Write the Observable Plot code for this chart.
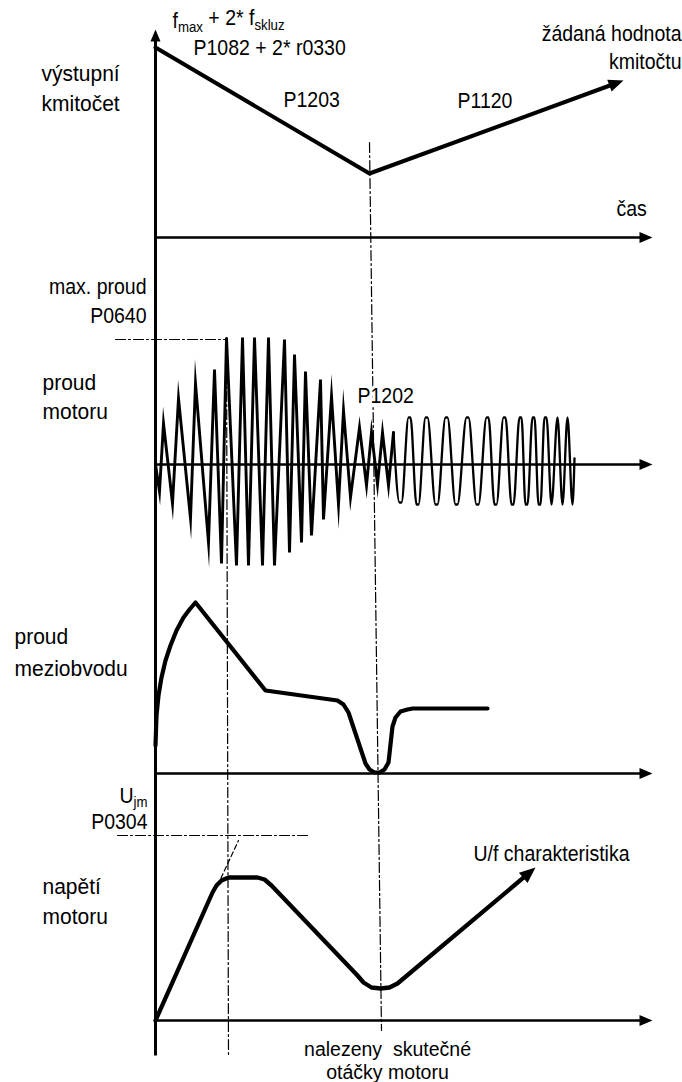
<!DOCTYPE html>
<html>
<head>
<meta charset="utf-8">
<script src="https://cdn.jsdelivr.net/npm/d3@7"></script>
<script src="https://cdn.jsdelivr.net/npm/@observablehq/plot@0.6"></script>
<style>
  html, body { margin: 0; padding: 0; background: #fff; }
  #chart svg { display: block; }
</style>
</head>
<body>
<div id="chart"></div>
<script>
// ---------------- DATA (t = time from the vertical axis, v = value above the panel's own time axis)
const freqOut = [ {t:0,v:190}, {t:214,v:64}, {t:468,v:157} ];

const motorZigzag = [
  {t:0,v:0},{t:4,v:-27},{t:8,v:41},{t:17,v:-39},{t:23,v:66},{t:35,v:-54},{t:40,v:81},
  {t:53,v:-78},{t:59,v:95},{t:66,v:-99},{t:71,v:127},{t:81,v:-101},{t:87,v:127},
  {t:93,v:-101},{t:99,v:127},{t:107,v:-101},{t:113,v:127},{t:119,v:-101},{t:129,v:125},
  {t:134,v:-88},{t:139,v:110},{t:146,v:-78},{t:150,v:93},{t:156,v:-71},{t:165,v:85},
  {t:168,v:-55},{t:176,v:68},{t:183,v:-40},{t:188,v:54},{t:195,v:-33},{t:204,v:37},
  {t:211,v:-21},{t:216,v:32},{t:222,v:-20},{t:227,v:32},{t:233,v:-21},{t:238,v:32}
];
const motorSine = [
  {t:238,v:32},{t:244,v:-38},{t:246,v:-38},{t:253,v:47},{t:255,v:47},{t:261,v:-40},{t:263,v:-40},
  {t:270,v:47},{t:272,v:47},{t:280,v:-40},{t:282,v:-40},{t:290,v:47},{t:292,v:47},
  {t:300,v:-40},{t:302,v:-40},{t:311,v:47},{t:313,v:47},{t:321,v:-40},{t:323,v:-40},
  {t:331,v:47},{t:333,v:47},{t:339,v:-40},{t:341,v:-40},{t:348,v:47},{t:350,v:47},
  {t:356,v:-40},{t:358,v:-40},{t:364,v:47},{t:366,v:47},{t:370,v:-40},{t:372,v:-40},
  {t:377,v:47},{t:379,v:47},{t:383,v:-40},{t:385,v:-40},{t:389,v:47},{t:391,v:47},
  {t:396,v:-40},{t:402,v:47},{t:407,v:-40},{t:412,v:47},{t:417,v:-40},{t:419,v:6}
];
const dcLink = [
  {t:0,v:28},{t:1,v:58},{t:3,v:78},{t:6,v:96},{t:10,v:113},{t:15,v:128},{t:21,v:143},
  {t:28,v:156},{t:34,v:164},{t:40,v:171},{t:110,v:83},{t:182,v:73},{t:188,v:69},
  {t:193,v:61},{t:210,v:10},{t:214,v:4},{t:219,v:1},{t:224,v:1},{t:229,v:4},{t:233,v:11},
  {t:237,v:47},{t:240,v:56},{t:245,v:62},{t:252,v:64},{t:257,v:65},{t:332,v:65}
];
const motorVoltage = [
  {t:0,v:0},{t:57,v:128},{t:61,v:135},{t:66,v:140},{t:73,v:143},{t:102,v:143},
  {t:109,v:141},{t:116,v:135},{t:202,v:45},{t:208,v:38},{t:216,v:33},{t:225,v:32},
  {t:234,v:33},{t:242,v:37},{t:380,v:153}
];
// guide lines (dash-dot)
const syncGuide      = [ {t:214,panel:"freq",v:95},   {t:226,panel:"volt",v:-10} ];
const peakGuide      = [ {t:71,panel:"motor",v:127},  {t:73,panel:"volt",v:-35} ];
const maxCurrentLine = [ {t:-40,panel:"motor",v:125}, {t:71,panel:"motor",v:125} ];
const ujmLine        = [ {t:-38,panel:"volt",v:185},  {t:152,panel:"volt",v:185} ];
const tangentLine    = [ {t:62,panel:"volt",v:135},   {t:83,panel:"volt",v:180} ];

// texts
const panelTitles = ["výstupní", "kmitočet", "proud", "motoru", "proud", "meziobvodu", "napětí", "motoru"];
const paramTexts = ["f_{max} + 2* f_{skluz}", "P1082 + 2* r0330", "P1203", "P1120",
  "žádaná hodnota", "kmitočtu", "čas", "max. proud", "P0640", "P1202",
  "U_{jm}", "P0304", "U/f charakteristika", "nalezeny  skutečné", "otáčky motoru"];

// ---------------- LAYOUT
const W = 682, H = 1082;
const base = {freq: 845, motor: 618, dc: 309, volt: 62};   // level of each panel's time axis
const axisEnd = 497, axisTop = 1053, axisBottom = 27;
const xs = d3.scaleLinear([-155, 527], [0, W]);
const ys = d3.scaleLinear([0, H], [H, 0]);
const lvl = d => base[d.panel] + d.v;

const arrowSymbol = {
  draw(ctx, size) {
    const s = Math.sqrt(size / Math.PI);
    ctx.moveTo(0, 0); ctx.lineTo(-0.42 * s, s); ctx.lineTo(0.42 * s, s); ctx.closePath();
  }
};
function head(series, b, r) {
  const a = series[series.length - 2], e = series[series.length - 1];
  const dx = xs(e.t) - xs(a.t), dy = ys(b + e.v) - ys(b + a.v);
  return {t: e.t, y: b + e.v, rotate: Math.atan2(dx, -dy) * 180 / Math.PI, r};
}
function trimmed(series, b, px) {
  const out = series.slice();
  const a = out[out.length - 2], e = out[out.length - 1];
  const X1 = xs(a.t), Y1 = ys(b + a.v), X2 = xs(e.t), Y2 = ys(b + e.v);
  const L = Math.hypot(X2 - X1, Y2 - Y1), k = (L - px) / L;
  out[out.length - 1] = {t: xs.invert(X1 + (X2 - X1) * k), v: ys.invert(Y1 + (Y2 - Y1) * k) - b};
  return out;
}
const axisLevels = [base.freq, base.motor, base.dc, base.volt];
const heads = [
  ...axisLevels.map(l => ({t: axisEnd, y: l, rotate: 90, r: 13})),
  {t: 0, y: axisTop, rotate: 0, r: 12},
  head(freqOut, base.freq, 15),
  head(motorVoltage, base.volt, 16)
];

const dashDot = "10,3,2,3";
const FONT = "'Liberation Sans', Arial, sans-serif";
const PANEL_SIZE = 21, PARAM_SIZE = 19.5;

function txt(s, t, y, anchor, size, extra = {}) {
  return Plot.text([s], {x: () => t, y: () => y, text: d => d, textAnchor: anchor, lineAnchor: "bottom",
    fontFamily: FONT, fontSize: size, fill: "black", ...extra});
}
const L = y => H - y; // page baseline -> level

const plot = Plot.plot({
  width: W, height: H, margin: 0,
  x: {domain: [-155, 527], range: [0, W], axis: null},
  y: {domain: [0, H], range: [H, 0], axis: null},
  r: {type: "identity"},
  marks: [
    // guides
    Plot.line(syncGuide, {x: "t", y: lvl, stroke: "black", strokeWidth: 1.2, strokeDasharray: dashDot}),
    Plot.line(peakGuide, {x: "t", y: lvl, stroke: "black", strokeWidth: 1.2, strokeDasharray: dashDot}),
    Plot.line(maxCurrentLine, {x: "t", y: lvl, stroke: "black", strokeWidth: 1.2, strokeDasharray: dashDot}),
    Plot.line(ujmLine, {x: "t", y: lvl, stroke: "black", strokeWidth: 1.2, strokeDasharray: dashDot}),
    Plot.line(tangentLine, {x: "t", y: lvl, stroke: "black", strokeWidth: 1.2, strokeDasharray: "5,3"}),
    // axes
    Plot.link(axisLevels, {x1: 0, x2: axisEnd - 8, y1: d => d, y2: d => d, stroke: "black", strokeWidth: 2.5}),
    Plot.link([0], {x1: 0, x2: 0, y1: axisBottom, y2: axisTop - 8, stroke: "black", strokeWidth: 3}),
    // curves
    Plot.line(trimmed(freqOut, base.freq, 8), {x: "t", y: d => base.freq + d.v, stroke: "black", strokeWidth: 4}),
    Plot.line(motorZigzag, {x: "t", y: d => base.motor + d.v, stroke: "black", strokeWidth: 2.9, strokeLinejoin: "miter", strokeMiterlimit: 20}),
    Plot.line(motorSine, {x: "t", y: d => base.motor + d.v, stroke: "black", strokeWidth: 2.3, curve: "monotone-x"}),
    Plot.line(dcLink, {x: "t", y: d => base.dc + d.v, stroke: "black", strokeWidth: 4.2, curve: "linear", strokeLinejoin: "round"}),
    Plot.line(trimmed(motorVoltage, base.volt, 8), {x: "t", y: d => base.volt + d.v, stroke: "black", strokeWidth: 4.3, strokeLinejoin: "round"}),
    // arrowheads
    Plot.dot(heads, {x: "t", y: "y", rotate: "rotate", r: "r", symbol: arrowSymbol, fill: "black", stroke: "none"}),
    // panel titles
    txt(panelTitles[0], -114, L(80), "start", PANEL_SIZE),
    txt(panelTitles[1], -114, L(110), "start", PANEL_SIZE),
    txt(panelTitles[2], -113, L(389), "start", PANEL_SIZE),
    txt(panelTitles[3], -113, L(418), "start", PANEL_SIZE),
    txt(panelTitles[4], -141, L(643), "start", PANEL_SIZE),
    txt(panelTitles[5], -141, L(675), "start", PANEL_SIZE),
    txt(panelTitles[6], -113, L(893), "start", PANEL_SIZE),
    txt(panelTitles[7], -113, L(923), "start", PANEL_SIZE),
    // parameter texts
    txt(paramTexts[0], 17, L(27), "start", PARAM_SIZE),
    txt(paramTexts[1], 38, L(54), "start", PARAM_SIZE),
    txt(paramTexts[2], 128, L(106), "start", PARAM_SIZE),
    txt(paramTexts[3], 302, L(107), "start", PARAM_SIZE),
    txt(paramTexts[4], 526, L(40), "end", PARAM_SIZE),
    txt(paramTexts[5], 526, L(68), "end", PARAM_SIZE),
    txt(paramTexts[6], 461, L(215), "start", PARAM_SIZE),
    txt(paramTexts[7], -9, L(293), "end", PARAM_SIZE),
    txt(paramTexts[8], -9, L(322), "end", PARAM_SIZE),
    txt(paramTexts[9], 202, L(402), "start", PARAM_SIZE, {stroke: "white", strokeWidth: 6}),
    txt(paramTexts[10], -8, L(802), "end", PARAM_SIZE),
    txt(paramTexts[11], -8, L(828), "end", PARAM_SIZE),
    txt(paramTexts[12], 318, L(860), "start", PARAM_SIZE),
    txt(paramTexts[13], 232, L(1055), "middle", PARAM_SIZE),
    txt(paramTexts[14], 232, L(1078), "middle", PARAM_SIZE)
  ]
});

// subscripts: "_{...}" -> real tspans; slightly taller glyphs like the original drawing
function esc(s) { return s.replace(/&/g, "&amp;").replace(/</g, "&lt;"); }
const noStretch = new Set(["nalezeny  skutečné", "otáčky motoru"]);
const panelSet = new Set(panelTitles);
plot.querySelectorAll("text").forEach(el => {
  const s = el.textContent;
  const k = noStretch.has(s) ? 1 : panelSet.has(s) ? 1.08 : 1.13;
  if (/_\{/.test(s)) {
    const parts = s.split(/_\{([^}]*)\}/);
    let html = "";
    parts.forEach((p, i) => {
      if (i === 0) html += esc(p);
      else if (i % 2 === 1) html += `<tspan dy="0.3em" font-size="0.68em">${esc(p)}</tspan>`;
      else if (p.length) html += `<tspan dy="-0.3em">${esc(p)}</tspan>`;
    });
    el.innerHTML = html;
  }
  if (k !== 1) {
    const tr = el.getAttribute("transform");
    if (tr) el.setAttribute("transform", `${tr} scale(1,${k})`);
    else {
      const y = +el.getAttribute("y") || 0;
      el.setAttribute("transform", `translate(0,${y}) scale(1,${k}) translate(0,${-y})`);
    }
  }
});

document.getElementById("chart").appendChild(plot);
</script>
</body>
</html>
